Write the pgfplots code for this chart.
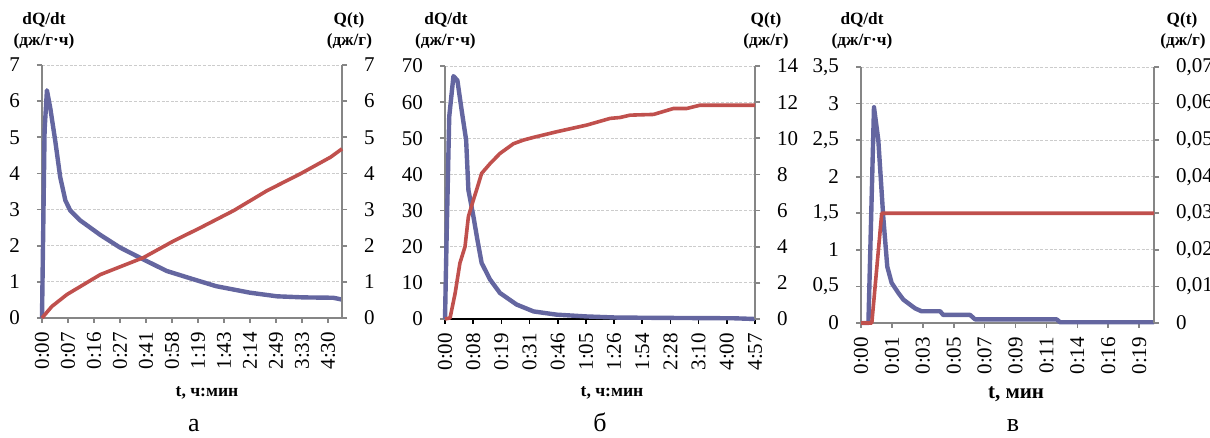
\documentclass[border=0pt]{standalone}
\usepackage{fontspec}
\setmainfont{Liberation Serif}
\usepackage{pgfplots}
\pgfplotsset{compat=1.18}
\definecolor{qblue}{RGB}{100,102,160}
\definecolor{qred}{RGB}{192,80,77}
\definecolor{axgray}{RGB}{134,134,134}

\pgfplotsset{
  base/.style={scale only axis, tick align=outside, major tick length=2.5pt,
    axis line style={axgray, line width=1.3pt},
    tick style={axgray, line width=0.8pt},
    ticklabel style={font=\fontsize{10.5}{12}\selectfont},
    /pgf/number format/assume math mode=true,
    /pgf/number format/use comma,
    scaled y ticks=false, clip=false},
  leftax/.style={base, axis x line*=bottom, axis y line*=left,
    ymajorgrids, grid style={gray!40, dash pattern=on 1.5pt off 0.8pt, line width=0.4pt},
    x tick label style={rotate=90, anchor=east, xshift=-1pt},
    yticklabel style={xshift=-5pt}},
  rightax/.style={base, axis y line*=right, axis x line=none,
    yticklabel style={xshift=5pt}},
  qd/.style={qblue, line width=2.2pt, line join=round},
  qq/.style={qred, line width=1.8pt, line join=round},
}
\newcommand{\ttl}{\fontsize{8.6}{10}\selectfont\bfseries}

\begin{document}
\begin{tikzpicture}
% ---------- panel a ----------
\begin{axis}[leftax, at={(21pt,60pt)}, anchor=south west, width=150pt, height=126.5pt,
  xmin=0, xmax=11.54, ymin=0, ymax=7, ytick={0,1,...,7},
  xtick={0,...,11},
  xticklabels={0:00,0:07,0:16,0:27,0:41,0:58,1:19,1:43,2:14,2:49,3:33,4:30}]
\addplot[qd] coordinates {(0,0) (0.1,5.2) (0.19,6.3) (0.32,5.8) (0.51,4.9) (0.7,3.9) (0.9,3.25) (1.09,2.97)
  (1.47,2.7) (2.24,2.3) (3.0,1.95) (3.9,1.62) (4.8,1.3) (5.83,1.07) (6.7,0.88) (8.0,0.7)
  (9.04,0.6) (10.06,0.57) (11.2,0.56) (11.54,0.51)};
\end{axis}
\begin{axis}[rightax, at={(21pt,60pt)}, anchor=south west, width=150pt, height=126.5pt,
  xmin=0, xmax=11.54, ymin=0, ymax=7, ytick={0,1,...,7}]
\addplot[qq] coordinates {(0,0) (0.38,0.32) (0.96,0.65) (2.24,1.2) (3.9,1.67) (5.06,2.13) (6.1,2.5)
  (7.37,2.97) (8.65,3.52) (9.94,3.99) (11.1,4.45) (11.54,4.68)};
\end{axis}

% ---------- panel b ----------
\begin{axis}[leftax, at={(222.5pt,59.5pt)}, anchor=south west, width=155pt, height=126.5pt,
  xmin=0, xmax=11, ymin=0, ymax=70, ytick={0,10,...,70},
  x axis line style={black, line width=1.3pt}, xtick style={black, line width=0.8pt},
  xtick={0,...,11},
  xticklabels={0:00,0:08,0:19,0:31,0:46,1:05,1:26,1:54,2:28,3:10,4:00,4:57}]
\addplot[qd] coordinates {(0,0) (0.06,23.7) (0.15,56) (0.3,67.2) (0.44,66) (0.59,57.8) (0.75,49.5)
  (0.83,35.7) (1.01,28.3) (1.15,21.9) (1.3,15.5) (1.6,10.9) (1.95,7.2) (2.54,4) (3.14,2.1)
  (3.96,1.2) (5.03,0.7) (6.09,0.4) (7.87,0.3) (10.24,0.2) (11,0)};
\end{axis}
\begin{axis}[rightax, at={(222.5pt,59.5pt)}, anchor=south west, width=155pt, height=126.5pt,
  xmin=0, xmax=11, ymin=0, ymax=14, ytick={0,2,...,14}]
\addplot[qq] coordinates {(0,0) (0.18,0.06) (0.36,1.43) (0.53,3.1) (0.71,4.0) (0.83,5.67) (1.01,6.6)
  (1.12,7.14) (1.3,8.06) (1.6,8.6) (1.95,9.16) (2.43,9.7) (2.78,9.9) (3.14,10.05) (3.96,10.36)
  (5.03,10.73) (5.86,11.1) (6.21,11.15) (6.57,11.28) (7.4,11.32) (8.11,11.65) (8.58,11.65)
  (9.05,11.83) (11,11.83)};
\end{axis}

% ---------- panel v ----------
\begin{axis}[leftax, at={(430.5pt,57.5pt)}, anchor=south west, width=146.5pt, height=128pt,
  xmin=0, xmax=9.48, ymin=0, ymax=3.5, ytick={0,0.5,...,3.5},
  yticklabels={0,{0,5},1,{1,5},2,{2,5},3,{3,5}},
  xtick={0,...,9},
  xticklabels={0:00,0:01,0:03,0:05,0:07,0:09,0:11,0:14,0:16,0:19}]
\addplot[qd] coordinates {(0,0) (0.24,0) (0.42,2.95) (0.56,2.5) (0.72,1.45) (0.85,0.77) (0.99,0.55)
  (1.21,0.41) (1.37,0.32) (1.59,0.25) (1.75,0.2) (1.96,0.16) (2.56,0.16) (2.66,0.11) (3.53,0.11)
  (3.69,0.05) (6.33,0.05) (6.44,0.01) (9.48,0.01)};
\end{axis}
\begin{axis}[rightax, at={(430.5pt,57.5pt)}, anchor=south west, width=146.5pt, height=128pt,
  xmin=0, xmax=9.48, ymin=0, ymax=0.07, ytick={0,0.01,...,0.07},
  yticklabels={0,{0,01},{0,02},{0,03},{0,04},{0,05},{0,06},{0,07}}]
\addplot[qq] coordinates {(0,0) (0.35,0) (0.67,0.03) (9.48,0.03)};
\end{axis}

% ---------- titles ----------
\node[font=\ttl] at (22pt,209pt) {dQ/dt};
\node[font=\ttl] at (22pt,198.5pt) {(дж/г·ч)};
\node[font=\ttl] at (174.5pt,209pt) {Q(t)};
\node[font=\ttl] at (174.7pt,198.5pt) {(дж/г)};
\node[font=\fontsize{8.8}{10}\selectfont\bfseries] at (103.5pt,22.5pt) {t, ч:мин};
\node[font=\fontsize{13}{15}\selectfont, anchor=base] at (97pt,3pt) {а};

\node[font=\ttl] at (223pt,209pt) {dQ/dt};
\node[font=\ttl] at (222.7pt,198.5pt) {(дж/г·ч)};
\node[font=\ttl] at (383pt,209pt) {Q(t)};
\node[font=\ttl] at (383pt,198.5pt) {(дж/г)};
\node[font=\fontsize{8.8}{10}\selectfont\bfseries] at (306pt,22.5pt) {t, ч:мин};
\node[font=\fontsize{13}{15}\selectfont, anchor=base] at (300pt,3pt) {б};

\node[font=\ttl] at (431pt,209pt) {dQ/dt};
\node[font=\ttl] at (431pt,198.5pt) {(дж/г·ч)};
\node[font=\ttl] at (591pt,209pt) {Q(t)};
\node[font=\ttl] at (591.5pt,198.5pt) {(дж/г)};
\node[font=\fontsize{10.5}{12}\selectfont\bfseries] at (508pt,22pt) {t, мин};
\node[font=\fontsize{13}{15}\selectfont, anchor=base] at (506.5pt,3pt) {в};

\pgfresetboundingbox
\path (0,0) rectangle (605pt,219pt);
\end{tikzpicture}
\end{document}
